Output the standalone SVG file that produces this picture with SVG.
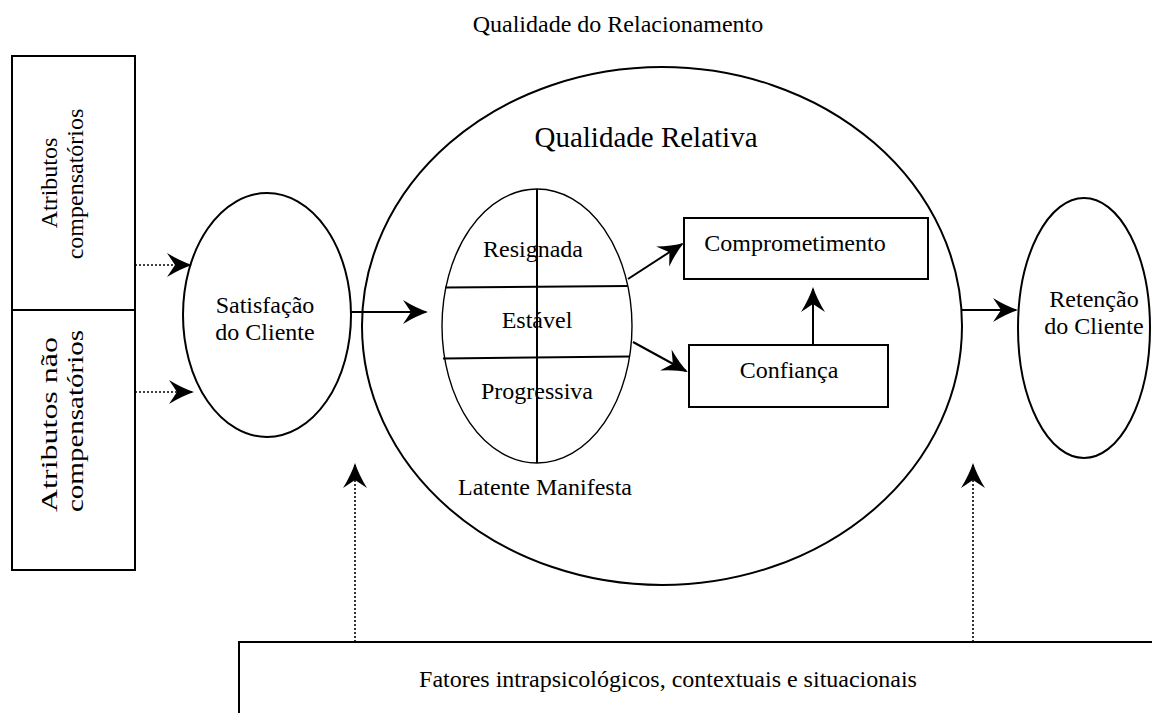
<svg xmlns="http://www.w3.org/2000/svg" width="1152" height="713" viewBox="0 0 1152 713">
  <style>
    text { font-family: "Liberation Serif", "Times New Roman", serif; fill: #000; }
    .t24 { font-size: 24px; }
    .mid { text-anchor: middle; }
    .shape { fill: none; stroke: #000; stroke-width: 2; }
    .thin { fill: none; stroke: #000; stroke-width: 1.4; }
    .solid { fill: none; stroke: #000; stroke-width: 2; marker-end: url(#barb); }
    .dotted { fill: none; stroke: #000; stroke-width: 1.6; stroke-dasharray: 2 2; marker-end: url(#barb); }
  </style>
  <defs>
    <marker id="barb" markerUnits="userSpaceOnUse" viewBox="-25 -13 28 26" markerWidth="28" markerHeight="26" refX="0" refY="0" orient="auto" overflow="visible">
      <path d="M2,0 Q-10,-4 -23,-12 L-15,0 L-23,12 Q-10,4 2,0 Z" fill="#000" stroke="none"/>
    </marker>
  </defs>

  <rect width="1152" height="713" fill="#fff"/>

  <!-- heading -->
  <text class="t24 mid" x="618" y="32">Qualidade do Relacionamento</text>

  <!-- attribute boxes -->
  <g id="atributos">
    <rect class="shape" x="12" y="56" width="123" height="514"/>
    <line class="shape" x1="12" y1="310" x2="135" y2="310"/>
    <g id="atributos-compensatorios">
      <text class="t24 mid" transform="translate(57,183) rotate(-90)">Atributos</text>
      <text class="t24 mid" transform="translate(83,184) rotate(-90)">compensatórios</text>
    </g>
    <g id="atributos-nao-compensatorios">
      <text class="t24" transform="translate(57,512) rotate(-90)" textLength="175" lengthAdjust="spacingAndGlyphs">Atributos não</text>
      <text class="t24" transform="translate(83,512) rotate(-90)" textLength="182" lengthAdjust="spacingAndGlyphs">compensatórios</text>
    </g>
  </g>

  <!-- customer satisfaction -->
  <g id="satisfacao">
    <ellipse class="shape" cx="267" cy="315" rx="84" ry="122"/>
    <text class="t24 mid" x="265" y="313">Satisfação</text>
    <text class="t24 mid" x="265" y="340">do Cliente</text>
  </g>

  <!-- relative quality -->
  <g id="qualidade-relativa">
    <ellipse class="shape" cx="662" cy="326" rx="300" ry="259"/>
    <text class="mid" x="646" y="147" font-size="29">Qualidade Relativa</text>
  </g>

  <!-- relationship states -->
  <g id="estados">
    <ellipse class="thin" cx="537" cy="326" rx="95" ry="137"/>
    <line class="shape" x1="537" y1="189" x2="537" y2="463"/>
    <line class="shape" x1="445" y1="287.5" x2="628" y2="286"/>
    <line class="shape" x1="443" y1="358.5" x2="630" y2="356.5"/>
    <text class="t24 mid" x="533" y="257">Resignada</text>
    <text class="t24 mid" x="537" y="328">Estável</text>
    <text class="t24 mid" x="537" y="399">Progressiva</text>
    <text class="t24 mid" x="545" y="495">Latente Manifesta</text>
  </g>

  <g id="comprometimento">
    <rect class="shape" x="684" y="218" width="244" height="61"/>
    <text class="t24 mid" x="795" y="251">Comprometimento</text>
  </g>

  <g id="confianca">
    <rect class="shape" x="689" y="345" width="199" height="62"/>
    <text class="t24 mid" x="789" y="378">Confiança</text>
  </g>

  <!-- customer retention -->
  <g id="retencao">
    <ellipse class="shape" cx="1084" cy="328" rx="66" ry="130"/>
    <text class="t24 mid" x="1094" y="307">Retenção</text>
    <text class="t24 mid" x="1094" y="334">do Cliente</text>
  </g>

  <!-- contextual factors -->
  <g id="fatores">
    <path class="shape" d="M239,713 V642 H1152"/>
    <text class="t24 mid" x="668" y="687">Fatores intrapsicológicos, contextuais e situacionais</text>
  </g>

  <!-- connectors -->
  <g id="connectors">
    <line class="dotted" x1="135" y1="265" x2="190" y2="265"/>
    <line class="dotted" x1="135" y1="392" x2="192" y2="392"/>
    <line class="solid" x1="351" y1="312" x2="426" y2="312"/>
    <line class="solid" x1="628" y1="279" x2="682" y2="244"/>
    <line class="solid" x1="633" y1="342" x2="686" y2="371"/>
    <line class="solid" x1="813" y1="345" x2="813" y2="289"/>
    <line class="solid" x1="962" y1="310" x2="1016" y2="310"/>
    <line class="dotted" x1="355" y1="642" x2="355" y2="465"/>
    <line class="dotted" x1="973" y1="642" x2="973" y2="465"/>
  </g>
</svg>
